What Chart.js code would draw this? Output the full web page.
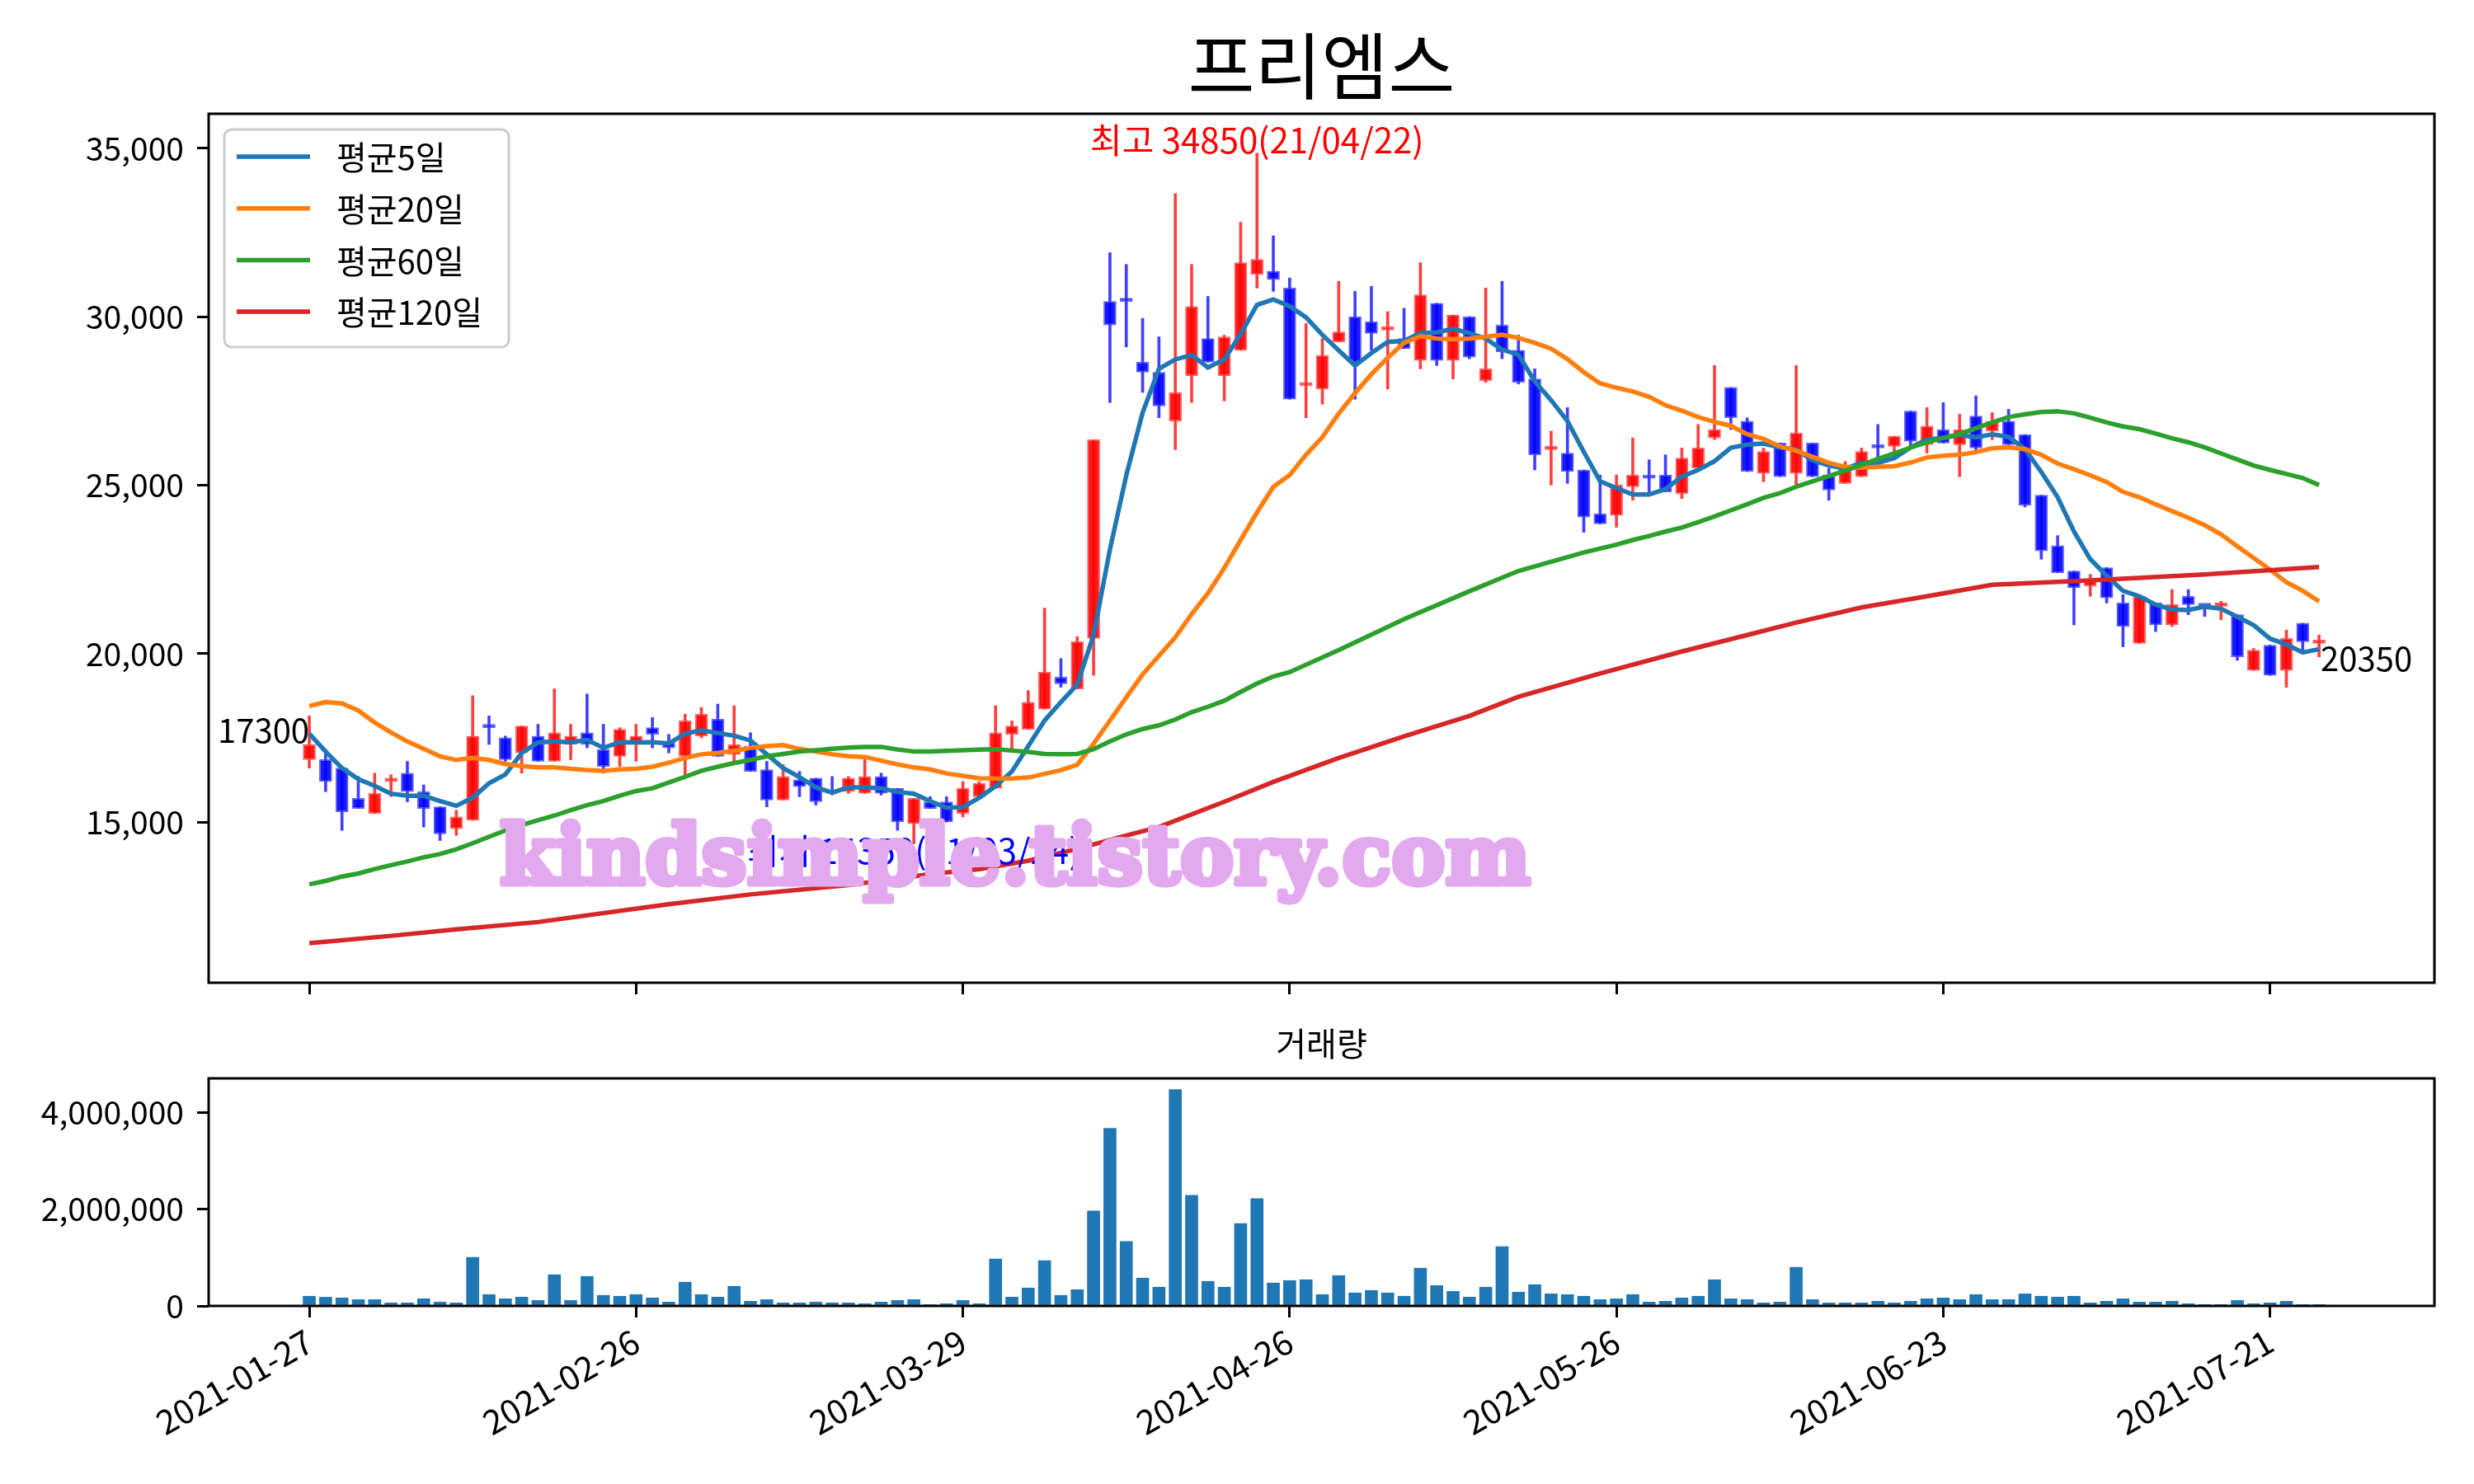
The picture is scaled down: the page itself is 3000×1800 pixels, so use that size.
<!DOCTYPE html>
<html>
<head>
<meta charset="utf-8">
<script src="https://cdn.jsdelivr.net/npm/chart.js@4.4.1/dist/chart.umd.min.js"></script>
<style>
  body { margin: 0; background: #fff; }
  #wrap { position: relative; width: 3000px; height: 1800px; }
  canvas { position: absolute; left: 0; top: 0; }
</style>
</head>
<body>
<div id="wrap">
  <canvas id="price" width="3000" height="1800"></canvas>
  <canvas id="volume" width="3000" height="1800"></canvas>
</div>
<script>
// 프리엠스 일봉 (2021-01-27 ~ 2021-07-26), 값은 그림에서 읽은 근사치
const title = "프리엠스";
const tickIdx = [0, 20, 40, 60, 80, 100, 120];
const dateTicks = ["2021-01-27", "2021-02-26", "2021-03-29", "2021-04-26", "2021-05-26", "2021-06-23", "2021-07-21"];
const priceTicks = [15000, 20000, 25000, 30000, 35000];
const volTicks = [0, 2000000, 4000000];

const opens = [
  16850, 16850, 16600, 15700, 15250, 16200, 16450, 15900, 15450, 14800,
  15050, 17850, 17500, 17050, 17550, 16800, 17300, 17650, 17150, 16950,
  17300, 17800, 17350, 16950, 17550, 18050, 17000, 17250, 16550, 15650,
  16250, 16300, 15900, 15900, 15850, 16350, 16000, 14950, 15600, 15600,
  15250, 15750, 16000, 17600, 17750, 18350, 19300, 18950, 20450, 30450,
  30550, 28650, 28350, 26900, 28250, 29350, 28250, 29000, 31250, 31350,
  30850, 27950, 27850, 29250, 30000, 29850, 29600, 29350, 28700, 30400,
  28700, 30000, 28100, 29750, 29000, 28150, 26050, 25950, 25450, 24150,
  24100, 24950, 25250, 25300, 24750, 25500, 26400, 27900, 26900, 25350,
  26250, 25350, 26250, 25300, 25050, 25250, 26150, 26150, 27200, 26200,
  26650, 26200, 27050, 26600, 26900, 26500, 24700, 23200, 22450, 22000,
  22550, 21500, 20300, 21500, 20850, 21700, 21450, 21400, 21150, 19500,
  20250, 19500, 20900, 20300
];
const highs = [
  18150, 17150, 16600, 16350, 16450, 16400, 16800, 16100, 15450, 15350,
  18750, 18150, 17550, 17850, 17900, 18950, 17900, 18800, 17900, 17800,
  17900, 18100, 17600, 18200, 18400, 18500, 18450, 17650, 16800, 16700,
  16500, 16300, 16350, 16350, 16850, 16450, 16000, 15700, 15750, 15750,
  16200, 16200, 18450, 18000, 18900, 21350, 19850, 20500, 26350, 31900,
  31550, 29950, 29400, 33650, 31550, 30600, 29450, 32800, 34850, 32400,
  31150, 29800, 29350, 31050, 30750, 30900, 30150, 30250, 31600, 30400,
  30050, 30000, 30850, 31050, 29450, 28450, 26600, 27300, 25450, 25300,
  25300, 26400, 25750, 25900, 26100, 26800, 28550, 27900, 27000, 26100,
  26250, 28550, 26250, 25500, 25700, 26100, 26800, 26450, 27200, 27300,
  27450, 27100, 27650, 27150, 27250, 26500, 24700, 23500, 22450, 22350,
  22550, 21750, 21700, 21500, 21900, 21900, 21450, 21550, 21150, 20150,
  20250, 20700, 20900, 20550
];
const lows = [
  16600, 15900, 14750, 15400, 15250, 15750, 15600, 14850, 14450, 14600,
  15050, 17300, 16800, 16450, 16800, 16800, 16850, 17200, 16450, 16650,
  16800, 17200, 17050, 16400, 17500, 16950, 16800, 16500, 15450, 15650,
  15750, 15500, 15800, 15850, 15850, 15800, 14750, 14350, 15400, 15000,
  15150, 15750, 16000, 17100, 17750, 18350, 19000, 18950, 19350, 27450,
  29100, 27750, 27000, 26050, 27450, 28650, 27500, 29000, 30850, 30750,
  27550, 27000, 27400, 29250, 27550, 29000, 27850, 29050, 28450, 28550,
  28150, 28750, 28050, 28750, 28000, 25450, 25000, 25050, 23600, 23850,
  23750, 24550, 24800, 24800, 24600, 25500, 26350, 26650, 25400, 25100,
  25250, 24950, 25250, 24550, 25050, 25250, 25750, 26000, 26150, 25950,
  26250, 25250, 25950, 26350, 26200, 24350, 22800, 22400, 20850, 21700,
  21500, 20200, 20300, 20650, 20800, 21150, 21100, 21000, 19800, 19500,
  19350, 19000, 20100, 19900
];
const closes = [
  17300, 16200, 15300, 15400, 15850, 16300, 15900, 15400, 14650, 15150,
  17550, 17800, 16850, 17850, 16800, 17650, 17550, 17300, 16650, 17750,
  17550, 17600, 17200, 18000, 18200, 16950, 17300, 16500, 15650, 16350,
  16050, 15600, 15850, 16300, 16350, 15850, 15000, 15700, 15400, 15000,
  16000, 16150, 17650, 17850, 18550, 19450, 19100, 20350, 26350, 29750,
  30450, 28350, 27350, 27750, 30300, 28650, 29400, 31600, 31700, 31100,
  27550, 28000, 28850, 29550, 28650, 29500, 29650, 29050, 30650, 28700,
  30050, 28800, 28450, 28950, 28050, 25900, 26150, 25400, 24050, 23850,
  25000, 25300, 25200, 24800, 25800, 26100, 26650, 27000, 25400, 26000,
  25250, 26550, 25250, 24850, 25550, 26000, 26100, 26450, 26300, 26750,
  26250, 26650, 26100, 26900, 26200, 24400, 23050, 22400, 21950, 22200,
  21650, 20800, 21700, 20850, 21450, 21450, 21400, 21500, 19900, 20100,
  19350, 20450, 20350, 20350
];
const volumes = [
  200000, 180000, 165000, 130000, 130000, 63000, 63000, 148000, 80000, 63000,
  1003000, 234000, 148000, 182000, 114000, 644000, 114000, 610000, 217000, 200000,
  234000, 165000, 80000, 490000, 234000, 182000, 405000, 97000, 131000, 63000,
  63000, 80000, 63000, 63000, 46000, 80000, 114000, 131000, 28000, 46000,
  114000, 46000, 969000, 182000, 370000, 934000, 217000, 336000, 1960000, 3670000,
  1330000, 575000, 387000, 4470000, 2285000, 507000, 387000, 1700000, 2216000, 473000,
  524000, 541000, 234000, 627000, 268000, 319000, 268000, 200000, 780000, 420000,
  300000, 182000, 387000, 1225000, 285000, 439000, 250000, 234000, 200000, 131000,
  148000, 234000, 80000, 97000, 165000, 200000, 541000, 148000, 131000, 63000,
  80000, 798000, 131000, 63000, 63000, 63000, 97000, 63000, 97000, 148000,
  165000, 131000, 234000, 131000, 131000, 250000, 200000, 182000, 200000, 63000,
  97000, 148000, 80000, 80000, 97000, 46000, 10000, 10000, 114000, 46000,
  63000, 97000, 28000, 10000
];

// 이동평균선
const ma5 = [
  17620, 17090, 16600, 16270, 16070, 15840, 15780, 15780, 15620, 15480,
  15720, 16150, 16410, 17050, 17360, 17390, 17360, 17440, 17200, 17370,
  17360, 17370, 17330, 17620, 17720, 17640, 17560, 17420, 17010, 16600,
  16330, 16030, 15870, 16030, 16030, 16000, 15890, 15840, 15620, 15420,
  15440, 15720, 16060, 16500, 17250, 18010, 18560, 19080, 20550, 23090,
  25290, 27150, 28450, 28730, 28860, 28490, 28730, 29480, 30350, 30510,
  30310, 29980, 29460, 29000, 28550, 28920, 29250, 29280, 29510, 29530,
  29640, 29510, 29350, 29020, 28870, 28080, 27520, 26900, 25990, 25110,
  24910, 24720, 24720, 24880, 25250, 25450, 25710, 26110, 26200, 26230,
  26120, 26050, 25740, 25580, 25490, 25660, 25660, 25800, 26120, 26350,
  26400, 26490, 26420, 26510, 26430, 26070, 25390, 24640, 23620, 22800,
  22310, 21860, 21700, 21450, 21310, 21290, 21390, 21330, 21090, 20840,
  20440, 20270, 20030, 20130
];
const ma20 = [
  18440, 18560, 18520, 18310, 17950, 17660, 17390, 17170, 16950, 16840,
  16900, 16840, 16720, 16660, 16620, 16620, 16580, 16540, 16520, 16560,
  16580, 16640, 16760, 16900, 17010, 17050, 17110, 17200, 17250, 17280,
  17170, 17090, 17010, 16950, 16930, 16820, 16710, 16620, 16560, 16440,
  16370, 16300, 16290, 16290, 16320, 16430, 16540, 16700, 17320, 18010,
  18700, 19380, 19930, 20480, 21170, 21790, 22540, 23370, 24190, 24950,
  25300, 25900, 26420, 27120, 27730, 28290, 28780, 29220, 29420, 29350,
  29330, 29350, 29400, 29460, 29370, 29220, 29050, 28740, 28350, 28020,
  27890, 27780, 27620, 27370, 27210, 27020, 26880, 26760, 26510, 26370,
  26150, 26020, 25840, 25660, 25540, 25520, 25540, 25560, 25670, 25820,
  25870, 25900, 25980, 26090, 26120, 26070, 25900, 25640, 25470, 25290,
  25090, 24800, 24640, 24430, 24230, 24030, 23810, 23540, 23180, 22840,
  22490, 22120, 21860, 21550
];
const ma60 = [
  13150, 13250, 13380, 13470, 13600, 13720, 13830, 13950, 14050, 14190,
  14370, 14560, 14750, 14910, 15050, 15190, 15350, 15500, 15620, 15780,
  15920, 16000, 16170, 16340, 16520, 16640, 16750, 16840, 16950, 17020,
  17090, 17130, 17170, 17210, 17230, 17230, 17150, 17090, 17090, 17110,
  17130, 17150, 17160, 17120, 17080, 17020, 17010, 17020, 17160, 17390,
  17600, 17760, 17870, 18040, 18260, 18420, 18600, 18860, 19110, 19320,
  19450, null, null, 20100, null, null, null, 21020, null, null,
  null, 21850, null, null, 22450, null, null, null, 23000, null,
  23230, 23370, 23490, 23620, 23740, 23900, 24070, 24250, 24430, 24620,
  24760, 24950, 25110, 25270, 25430, 25600, 25780, 25940, 26110, 26270,
  26400, 26510, 26690, 26860, 27020, 27100, 27170, 27190, 27130, 27000,
  26860, 26740, 26660, 26530, 26390, 26270, 26120, 25940, 25760, 25580,
  25450, 25330, 25210, 25000
];
const ma120Idx = [0, 5, 9, 14, 22, 27, 33, 38, 41, 44, 47, 50, 52, 56, 59, 63, 67, 71, 74, 79, 84, 88, 91, 95, 99, 103, 109, 116, 123];
const ma120 = [11400, 11620, 11810, 12030, 12560, 12850, 13130, 13450, 13600, 13850, 14200, 14600, 14850, 15600, 16190, 16900, 17540, 18150, 18715, 19410, 20060, 20550, 20920, 21370, 21700, 22040, 22170, 22350, 22570];

const maLabels = ["평균5일", "평균20일", "평균60일", "평균120일"];
const maColors = ["#1f77b4", "#ff7f0e", "#2ca02c", "#d62728"];

const highNote = { idx: 58, price: 34850, text: "최고 34850(21/04/22)" };
const lowNote = { idx: 37, price: 14350, text: "최저 14350(21/03/24)" };
const watermark = "kindsimple.tistory.com";

const FONT = '"Noto Sans CJK KR", "Noto Sans", sans-serif';
Chart.defaults.font.family = FONT;
Chart.defaults.color = "#000";
Chart.defaults.animation = false;

const xMin = -6.16, xMax = 130.06;
const days = closes.map((c, i) => i);
const isUp = closes.map((c, i) => c >= opens[i]);

function fixedTicks(values) {
  return scale => { scale.ticks = values.map(v => ({ value: v })); };
}
function toPoints(arr) {
  return arr.map((v, i) => ({ x: i, y: v }));
}
const comma = v => Number(v).toLocaleString("en-US");

// 그림 위 장식: 테두리, 제목, 범례, 주석, 워터마크
const priceDecor = {
  id: "priceDecor",
  afterDraw(chart) {
    const { ctx, chartArea: a, scales } = chart;
    const x = scales.x, y = scales.y;
    ctx.save();
    ctx.strokeStyle = "#000";
    ctx.lineWidth = 3;
    ctx.strokeRect(a.left, a.top, a.right - a.left, a.bottom - a.top);

    ctx.fillStyle = "#000";
    ctx.font = "88px " + FONT;
    ctx.textAlign = "center";
    ctx.textBaseline = "alphabetic";
    ctx.fillText(title, (a.left + a.right) / 2, 113);

    // 최고/최저
    ctx.font = "42px " + FONT;
    ctx.fillStyle = "#ff0000";
    ctx.textBaseline = "bottom";
    ctx.fillText(highNote.text, x.getPixelForValue(highNote.idx), y.getPixelForValue(highNote.price) + 5);
    ctx.fillStyle = "#0000ff";
    ctx.textBaseline = "middle";
    ctx.fillText(lowNote.text, x.getPixelForValue(lowNote.idx), y.getPixelForValue(lowNote.price) + 8);

    // 시작/끝 종가
    const last = closes.length - 1;
    ctx.font = "40px " + FONT;
    ctx.fillStyle = "#000";
    ctx.textBaseline = "alphabetic";
    ctx.textAlign = "right";
    ctx.fillText(String(closes[0]), x.getPixelForValue(0), y.getPixelForValue(closes[0]) - 2);
    ctx.textAlign = "left";
    ctx.fillText(String(closes[last]), x.getPixelForValue(last) + 2, y.getPixelForValue(closes[last]) + 36);

    // 범례
    ctx.beginPath();
    ctx.roundRect(272, 157, 345, 264, 9);
    ctx.fillStyle = "rgba(255,255,255,0.8)";
    ctx.fill();
    ctx.strokeStyle = "#cccccc";
    ctx.lineWidth = 3;
    ctx.stroke();
    ctx.font = "40px " + FONT;
    ctx.textBaseline = "middle";
    ctx.textAlign = "left";
    maLabels.forEach((lab, k) => {
      const ry = 190 + k * 62.7;
      ctx.strokeStyle = maColors[k];
      ctx.lineWidth = 5.5;
      ctx.beginPath();
      ctx.moveTo(287, ry);
      ctx.lineTo(376, ry);
      ctx.stroke();
      ctx.fillStyle = "#000";
      ctx.fillText(lab, 408, ry + 1);
    });

    // 워터마크 (굵게 보이도록 같은 색 외곽선 추가)
    ctx.font = "bold 100px \"DejaVu Serif\"";
    const w = ctx.measureText(watermark).width;
    ctx.translate(606, 1072);
    ctx.scale(1250 / w, 1);
    ctx.fillStyle = "#e3a9ee";
    ctx.strokeStyle = "#e3a9ee";
    ctx.lineWidth = 7;
    ctx.lineJoin = "round";
    ctx.textAlign = "left";
    ctx.textBaseline = "alphabetic";
    ctx.strokeText(watermark, 0, 0);
    ctx.fillText(watermark, 0, 0);
    ctx.restore();
  }
};

const volDecor = {
  id: "volDecor",
  afterDraw(chart) {
    const { ctx, chartArea: a } = chart;
    ctx.save();
    ctx.strokeStyle = "#000";
    ctx.lineWidth = 3;
    ctx.strokeRect(a.left, a.top, a.right - a.left, a.bottom - a.top);
    ctx.fillStyle = "#000";
    ctx.font = "40px " + FONT;
    ctx.textAlign = "center";
    ctx.textBaseline = "alphabetic";
    ctx.fillText("거래량", (a.left + a.right) / 2, 1281);
    ctx.restore();
  }
};

const tickGrid = { drawOnChartArea: false, drawTicks: true, tickLength: 14, tickColor: "#000", tickWidth: 3, color: "#000", lineWidth: 3 };

// 가격 차트
const priceChart = new Chart(document.getElementById("price"), {
  type: "bar",
  data: {
    datasets: [
      ...maLabels.slice(0, 3).map((lab, k) => ({
        type: "line",
        label: lab,
        data: toPoints([ma5, ma20, ma60][k]),
        borderColor: maColors[k],
        borderWidth: 5.5,
        pointRadius: 0,
        spanGaps: true,
        order: 1.3 - k * 0.1,
      })),
      {
        type: "line",
        label: maLabels[3],
        data: ma120Idx.map((d, k) => ({ x: d, y: ma120[k] })),
        borderColor: maColors[3],
        borderWidth: 5.5,
        pointRadius: 0,
        order: 1,
      },
      {
        label: "body",
        data: days.map(i => ({ x: i, y: [opens[i], closes[i]] })),
        backgroundColor: isUp.map(u => (u ? "rgba(255,0,0,0.9)" : "rgba(0,0,255,0.9)")),
        borderColor: isUp.map(u => (u ? "rgba(255,60,60,0.8)" : "rgba(60,60,255,0.8)")),
        borderWidth: 2,
        borderSkipped: false,
        barThickness: 15,
        minBarLength: 4,
        grouped: false,
        order: 5,
      },
      {
        label: "wick",
        data: days.map(i => ({ x: i, y: [lows[i], highs[i]] })),
        backgroundColor: isUp.map(u => (u ? "rgba(255,0,0,0.75)" : "rgba(0,0,255,0.75)")),
        borderWidth: 0,
        barThickness: 3,
        grouped: false,
        order: 6,
      },
    ],
  },
  options: {
    responsive: false,
    devicePixelRatio: 1,
    events: [],
    layout: { padding: { left: 0, top: 138, right: 48, bottom: 588 } },
    plugins: { legend: { display: false }, tooltip: { enabled: false } },
    scales: {
      x: {
        type: "linear",
        min: xMin,
        max: xMax,
        offset: false,
        afterBuildTicks: fixedTicks(tickIdx),
        afterFit: s => { s.height = 20; },
        ticks: { callback: () => "", autoSkip: false },
        grid: { ...tickGrid, offset: false },
        border: { display: false },
      },
      y: {
        min: 10228,
        max: 36022,
        afterBuildTicks: fixedTicks(priceTicks),
        afterFit: s => { s.width = 253; },
        ticks: { callback: comma, font: { size: 39 }, padding: 16 },
        grid: tickGrid,
        border: { display: false },
      },
    },
  },
  plugins: [priceDecor],
});

// 거래량 차트
const volChart = new Chart(document.getElementById("volume"), {
  type: "bar",
  data: {
    datasets: [{
      label: "거래량",
      data: days.map(i => ({ x: i, y: volumes[i] })),
      backgroundColor: "#1f77b4",
      barThickness: 15,
      grouped: false,
    }],
  },
  options: {
    responsive: false,
    devicePixelRatio: 1,
    events: [],
    layout: { padding: { left: 0, top: 1308, right: 48, bottom: 0 } },
    plugins: { legend: { display: false }, tooltip: { enabled: false } },
    scales: {
      x: {
        type: "linear",
        min: xMin,
        max: xMax,
        offset: false,
        afterBuildTicks: fixedTicks(tickIdx),
        afterFit: s => { s.height = 216; },
        ticks: {
          autoSkip: false,
          maxRotation: 30,
          minRotation: 30,
          padding: 4,
          font: { size: 41 },
          callback: v => dateTicks[tickIdx.indexOf(v)],
        },
        grid: { ...tickGrid, offset: false },
        border: { display: false },
      },
      y: {
        min: 0,
        max: 4700000,
        afterBuildTicks: fixedTicks(volTicks),
        afterFit: s => { s.width = 253; },
        ticks: { callback: comma, font: { size: 39 }, padding: 16 },
        grid: tickGrid,
        border: { display: false },
      },
    },
  },
  plugins: [volDecor],
});
</script>
</body>
</html>
